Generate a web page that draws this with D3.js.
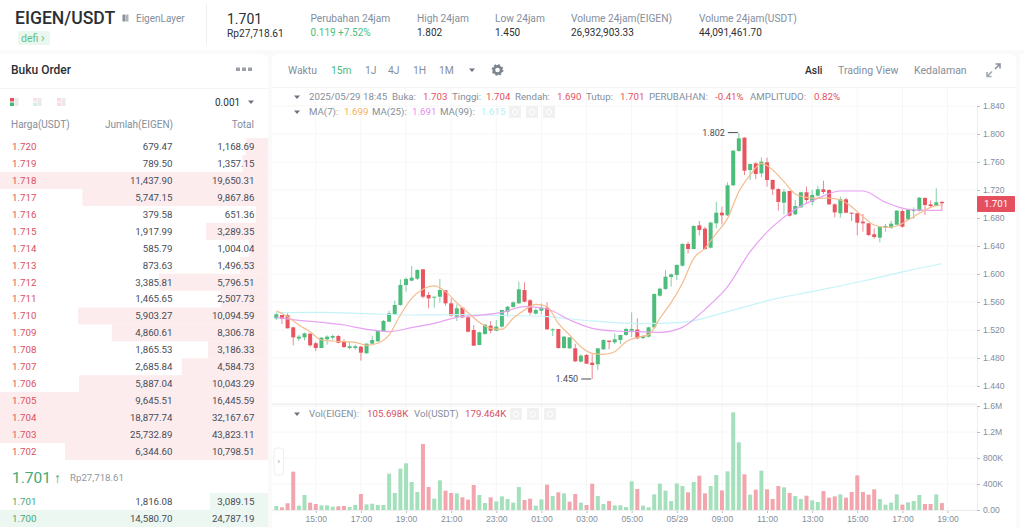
<!DOCTYPE html>
<html>
<head>
<meta charset="utf-8">
<script src="https://cdn.jsdelivr.net/npm/d3@7"></script>
<style>
  html, body { margin: 0; padding: 0; background: #fafafa; overflow: hidden; }
  svg { display: block; font-family: Roboto, "Noto Sans", sans-serif; }
</style>
</head>
<body>
<svg id="page" width="1024" height="528"></svg>
<script>
// candles, 15 minutes each, 05/28 13:15 to 05/29 18:45
const opens = [
  1.5367,1.5414,1.541,1.5238,1.5076,1.5095,1.5148,1.501,1.4943,1.5067,
  1.509,1.5114,1.5038,1.4943,1.4943,1.4962,1.4867,1.5005,1.5038,1.5181,
  1.5319,1.5424,1.5557,1.5843,1.5905,1.5933,1.6067,1.57,1.5662,1.5676,
  1.5767,1.5581,1.539,1.5519,1.5381,1.52,1.4986,1.5143,1.5262,1.519,
  1.5248,1.5462,1.5529,1.5581,1.5771,1.5624,1.5433,1.5476,1.5519,1.5195,
  1.5214,1.4943,1.4938,1.4938,1.4748,1.4843,1.4733,1.471,1.4924,1.5048,
  1.5024,1.5057,1.5129,1.519,1.5205,1.5086,1.5105,1.5238,1.569,1.5786,
  1.5957,1.5986,1.6119,1.6429,1.6357,1.6695,1.6648,1.6376,1.6724,1.6876,
  1.6838,1.7267,1.7757,1.7948,1.7486,1.7581,1.7438,1.7595,1.7343,1.7214,
  1.7019,1.7186,1.6852,1.6952,1.7167,1.7029,1.7119,1.721,1.72,1.6995,
  1.6867,1.7067,1.6876,1.6867,1.6748,1.6724,1.6567,1.6519,1.6662,1.6662,
  1.6705,1.69,1.6781,1.69,1.69,1.7086,1.6995,1.6976,1.703];
const closes = [
  1.5424,1.5357,1.5224,1.5095,1.5105,1.5152,1.4981,1.4943,1.509,1.5105,
  1.5114,1.5019,1.4957,1.4967,1.4967,1.4876,1.5005,1.5057,1.5186,1.5329,
  1.5438,1.5557,1.5843,1.5929,1.5948,1.6057,1.5676,1.5652,1.5676,1.5771,
  1.5581,1.5405,1.551,1.5381,1.5176,1.4976,1.5167,1.5276,1.519,1.5248,
  1.5486,1.5533,1.5595,1.5781,1.5605,1.5448,1.5486,1.5519,1.521,1.521,
  1.4943,1.5105,1.5095,1.4752,1.4833,1.4719,1.47,1.4938,1.5057,1.5029,
  1.5067,1.5129,1.5214,1.5214,1.5081,1.5114,1.5238,1.5714,1.579,1.5962,
  1.5995,1.6129,1.6429,1.6357,1.6686,1.6629,1.6357,1.6733,1.6876,1.6838,
  1.7267,1.7762,1.7938,1.7476,1.7571,1.7429,1.7605,1.7343,1.721,1.7029,
  1.7176,1.6833,1.6971,1.7167,1.7057,1.7129,1.721,1.7171,1.6995,1.6881,
  1.7067,1.6876,1.6862,1.6733,1.6724,1.6557,1.6529,1.6676,1.6686,1.6719,
  1.6905,1.6676,1.6919,1.6914,1.709,1.6986,1.6971,1.7024,1.701];
const highs = [
  1.5448,1.5414,1.5438,1.5248,1.5133,1.5162,1.5152,1.5029,1.51,1.5124,
  1.5133,1.5129,1.5067,1.5033,1.499,1.4971,1.501,1.5114,1.5195,1.5343,
  1.5476,1.5619,1.5924,1.5952,1.6114,1.6071,1.6067,1.5743,1.5676,1.5929,
  1.5767,1.5652,1.5567,1.5519,1.5414,1.5271,1.5176,1.5286,1.5329,1.5343,
  1.5486,1.5543,1.561,1.589,1.5881,1.5643,1.551,1.5581,1.5595,1.5224,
  1.5214,1.5114,1.51,1.5,1.4852,1.4857,1.4852,1.4943,1.5067,1.5048,
  1.5152,1.5129,1.5233,1.5452,1.5367,1.5129,1.5248,1.5724,1.5805,1.6057,
  1.6005,1.6138,1.6438,1.6462,1.6695,1.6757,1.6676,1.6748,1.7033,1.6962,
  1.731,1.7771,1.802,1.7952,1.7581,1.7595,1.7667,1.7662,1.7352,1.7224,
  1.7214,1.7186,1.7057,1.7176,1.7248,1.72,1.7262,1.7333,1.721,1.701,
  1.7105,1.709,1.6876,1.6876,1.6857,1.6724,1.6652,1.6681,1.6714,1.6762,
  1.6914,1.6924,1.6924,1.6952,1.71,1.7095,1.7052,1.7224,1.704];
const lows = [
  1.5343,1.5286,1.5224,1.4981,1.5043,1.5052,1.4962,1.49,1.4943,1.499,
  1.5057,1.501,1.4943,1.4924,1.4919,1.4762,1.4862,1.5,1.5033,1.5176,
  1.5314,1.5419,1.5548,1.5748,1.5895,1.5914,1.5652,1.551,1.5519,1.559,
  1.5548,1.539,1.5329,1.5371,1.5167,1.4971,1.4981,1.5133,1.5152,1.5181,
  1.5238,1.539,1.5519,1.5571,1.5595,1.5414,1.5424,1.5424,1.52,1.5114,
  1.4933,1.4933,1.4929,1.4743,1.4738,1.4714,1.45,1.4629,1.4914,1.4924,
  1.5,1.5,1.5119,1.5095,1.5067,1.5071,1.5095,1.5229,1.5676,1.5771,
  1.5819,1.5914,1.6105,1.6295,1.6352,1.6552,1.6343,1.6367,1.6652,1.671,
  1.6829,1.7257,1.7748,1.7414,1.7343,1.7357,1.7381,1.7248,1.7129,1.6905,
  1.6852,1.6819,1.6843,1.6948,1.7,1.6976,1.7105,1.7143,1.6986,1.681,
  1.6805,1.6867,1.6757,1.6552,1.6605,1.6543,1.6505,1.6452,1.6605,1.6643,
  1.67,1.6662,1.6771,1.6786,1.689,1.6843,1.6952,1.6971,1.69];

// volume per candle, in thousands of EIGEN
const volumes = [
  62,41,103,590,67,231,113,92,72,72,
  51,56,62,46,77,246,87,97,77,77,
  559,262,636,718,431,277,1015,354,174,456,
  297,262,256,195,159,385,231,108,195,133,
  210,169,113,354,154,174,67,164,390,215,
  272,256,128,246,113,77,405,215,92,138,
  72,72,46,441,323,67,41,241,405,297,
  138,410,369,272,431,528,256,369,538,302,
  595,1502,1041,549,236,313,605,318,169,369,
  349,262,215,169,220,149,123,292,190,210,
  241,190,277,533,277,236,318,169,82,113,
  241,82,118,138,231,92,92,241,106];
const redVolumes = [1,2,3,6,7,11,12,15,26,27,30,31,33,34,35,38,44,45,48,50,52,53,55,56,59,64,
  73,75,76,79,83,85,87,88,89,91,94,97,98,99,101,102,103,104,105,106,111,115,116,118];

// moving averages, one value every 2, 4 and 8 candles
const ma7 = [
  1.5476,1.539,1.5271,1.5176,1.5057,1.5043,1.5033,1.5024,1.4981,1.501,
  1.5129,1.5414,1.5652,1.5781,1.5829,1.5748,1.559,1.5448,1.531,1.5224,
  1.521,1.5367,1.5486,1.5567,1.5533,1.5295,1.5129,1.4962,1.4867,1.4852,
  1.489,1.5033,1.5095,1.513,1.5367,1.559,1.5867,1.6224,1.6367,1.6581,
  1.6795,1.7176,1.7414,1.7581,1.7486,1.7319,1.7143,1.7095,1.7081,1.7085,
  1.7057,1.6962,1.6819,1.67,1.6666,1.6686,1.6771,1.6867,1.6952,1.6986];
const ma25 = [
  1.5381,1.5338,1.531,1.5271,1.521,1.5176,1.5233,1.5295,1.5381,1.541,
  1.5452,1.5533,1.55,1.5343,1.5224,1.5186,1.5176,1.5167,1.5238,1.5495,
  1.5819,1.6319,1.6676,1.6924,1.7081,1.7186,1.7186,1.7024,1.6924,1.691,1.691];
const ma99 = [
  1.5448,1.5452,1.5433,1.5414,1.5419,1.541,1.539,1.5329,1.529,1.531,
  1.5462,1.5638,1.5765,1.59,1.6048,1.6147];

const priceTicks = [1.84,1.8,1.76,1.72,1.68,1.64,1.6,1.56,1.52,1.48,1.44];
const volumeTicks = [0,400,800,1200,1600];
const volumeTickLabels = ["0.00","400K","800K","1.2M","1.6M"];
const timeTickLabels = ["15:00","17:00","19:00","21:00","23:00","01:00","03:00","05:00","05/29","09:00","11:00","13:00","15:00","17:00","19:00"];

// order book
const askPrices = [1.720,1.719,1.718,1.717,1.716,1.715,1.714,1.713,1.712,1.711,1.710,1.709,1.708,1.707,1.706,1.705,1.704,1.703,1.702];
const askAmounts = [679.47,789.50,11437.90,5747.15,379.58,1917.99,585.79,873.63,3385.81,1465.65,5903.27,4860.61,1865.53,2685.84,5887.04,9645.51,18877.74,25732.89,6344.60];
const askTotals = [1168.69,1357.15,19650.31,9867.86,651.36,3289.35,1004.04,1496.53,5796.51,2507.73,10094.59,8306.78,3186.33,4584.73,10043.29,16445.59,32167.67,43823.11,10798.51];
const bidPrices = [1.701,1.700];
const bidAmounts = [1816.08,14580.70];
const bidTotals = [3089.15,24787.19];

const tfLabels = ["1J","4J","1H","1M"];

const GREEN = "#4dbd7c", RED = "#e8545f", GRAY = "#848e9c", DARK = "#2b2f36";
const GRID = "#f6f6f6";

let svg = d3.select("#page");

function label(parent, x, y, str, size, fill, anchor, weight) {
    return parent.append("text")
        .attr("x", x).attr("y", y)
        .attr("dy", "0.35em")
        .attr("font-size", size)
        .attr("fill", fill)
        .attr("text-anchor", anchor || "start")
        .attr("font-weight", weight || 400)
        .text(str);
}

function box(parent, x, y, w, h, fill, r) {
    return parent.append("rect")
        .attr("x", x).attr("y", y)
        .attr("width", w).attr("height", h)
        .attr("rx", r || 0)
        .attr("fill", fill);
}

function caret(parent, x, y) {
    parent.append("path")
        .attr("d", d3.line()([[x - 3, y - 1.5], [x + 3, y - 1.5], [x, y + 2]]))
        .attr("fill", "#6b7280");
}

/* ---------- page frame ---------- */
box(svg, 0, 0, 1024, 50, "#fff");
box(svg, -6, 54, 274, 480, "#fff", 6);
box(svg, 272, 54, 744, 480, "#fff", 6);
box(svg, 1020, 54, 10, 480, "#fff", 4);

/* ---------- header ---------- */
label(svg, 15, 18, "EIGEN/USDT", 17.6, DARK, "start", 500);
box(svg, 122.5, 14.5, 3, 7, "#8b9099", 0.5);
box(svg, 126, 14.5, 2.5, 7, "#b0b4ba", 0.5);
label(svg, 136, 18, "EigenLayer", 10, GRAY);
box(svg, 18, 31, 32, 14, "#e9f7ee", 2);
label(svg, 21, 38, "defi", 10.5, "#5cc08a");
label(svg, 41, 38, "›", 12, "#5cc08a");
svg.append("line").attr("x1", 206.5).attr("x2", 206.5).attr("y1", 4).attr("y2", 45).attr("stroke", "#f0f0f0");
label(svg, 227, 19, "1.701", 14, DARK);
label(svg, 227, 33, "Rp27,718.61", 10.2, DARK);
label(svg, 310.5, 18, "Perubahan 24jam", 10.2, GRAY);
label(svg, 310.5, 32.5, "0.119 +7.52%", 10, GREEN);
label(svg, 417, 18, "High 24jam", 10.2, GRAY);
label(svg, 417, 32.5, "1.802", 10, DARK);
label(svg, 495, 18, "Low 24jam", 10.2, GRAY);
label(svg, 495, 32.5, "1.450", 10, DARK);
label(svg, 571, 18, "Volume 24jam(EIGEN)", 10.2, GRAY);
label(svg, 571, 32.5, "26,932,903.33", 10, DARK);
label(svg, 699, 18, "Volume 24jam(USDT)", 10.2, GRAY);
label(svg, 699, 32.5, "44,091,461.70", 10, DARK);

/* ---------- order book ---------- */
let book = svg.append("g");
label(book, 11, 70, "Buku Order", 12, DARK, "start", 500);
[238, 244, 250].forEach(x => box(book, x - 2, 67.5, 4, 3.5, "#9aa0a8", 0.5));
book.append("line").attr("x1", 0).attr("x2", 268).attr("y1", 88.5).attr("y2", 88.5).attr("stroke", "#f3f3f3");

// the three little layout buttons
[[10, "#e5505f", "#45b877", 1], [33, "#fbdde0", "#cdeedb", 0.9], [57, "#f9ccd1", "#f9ccd1", 0.7]].forEach(d => {
    box(book, d[0], 98, 4, 3.5, d[1]).attr("opacity", d[3]);
    box(book, d[0], 102.5, 4, 3.5, d[2]).attr("opacity", d[3]);
    box(book, d[0] + 4.5, 98, 4, 8, "#dfe1e4").attr("opacity", 0.7);
});
label(book, 215, 102.5, "0.001", 10, DARK);
caret(book, 251, 102);
label(book, 11, 124, "Harga(USDT)", 10, GRAY);
label(book, 173, 124, "Jumlah(EIGEN)", 10, GRAY, "end");
label(book, 254, 124, "Total", 10, GRAY, "end");

let depth = d3.scaleLinear().domain([0, 14250]).range([0, 268]).clamp(true);
let askRow = d3.scaleLinear().domain([0, 18]).range([146.7, 451.4]);
let bidRow = d3.scaleLinear().domain([0, 1]).range([501.6, 518.4]);
let fmtAmount = d3.format(",.2f");
let fmtPrice = d3.format(".3f");

function drawRows(prices, amounts, totals, rowY, barColor, textColor) {
    let rows = book.selectAll(null)
        .data(prices)
        .enter()
        .append("g")
        .attr("transform", (d, i) => `translate(0,${rowY(i)})`);

    rows.append("rect")
        .attr("x", (d, i) => 268 - depth(totals[i]))
        .attr("y", -8.5)
        .attr("width", (d, i) => depth(totals[i]))
        .attr("height", 17)
        .attr("fill", barColor);

    rows.append("text")
        .attr("x", 12).attr("dy", "0.35em")
        .attr("font-size", 9.7).attr("fill", textColor)
        .text(d => fmtPrice(d));

    rows.append("text")
        .attr("x", 172.5).attr("dy", "0.35em")
        .attr("font-size", 9.7).attr("fill", "#474d57").attr("text-anchor", "end")
        .text((d, i) => fmtAmount(amounts[i]));

    rows.append("text")
        .attr("x", 254.5).attr("dy", "0.35em")
        .attr("font-size", 9.7).attr("fill", "#474d57").attr("text-anchor", "end")
        .text((d, i) => fmtAmount(totals[i]));
}
drawRows(askPrices, askAmounts, askTotals, askRow, "#fcecee", "#d9505f");
drawRows(bidPrices, bidAmounts, bidTotals, bidRow, "#ecf7f1", "#45a873");

label(book, 12, 478, "1.701", 15.5, "#45a873");
label(book, 54, 478, "↑", 14, "#45a873");
label(book, 70, 478, "Rp27,718.61", 9.7, "#8f98a3");

/* ---------- toolbar ---------- */
let tools = svg.append("g");
tools.append("line").attr("x1", 272).attr("x2", 1016).attr("y1", 87.5).attr("y2", 87.5).attr("stroke", "#f3f3f3");
label(tools, 288, 70, "Waktu", 10.3, GRAY);
label(tools, 331, 70, "15m", 10.3, GREEN);
[365, 388, 413, 439].forEach((x, i) => label(tools, x, 70, tfLabels[i], 10.3, GRAY));
caret(tools, 472, 70);
tools.append("circle").attr("cx", 497.5).attr("cy", 70).attr("r", 3.6)
    .attr("fill", "none").attr("stroke", "#7d8590").attr("stroke-width", 2.6);
tools.append("circle").attr("cx", 497.5).attr("cy", 70).attr("r", 5.1)
    .attr("fill", "none").attr("stroke", "#7d8590").attr("stroke-width", 1.6).attr("stroke-dasharray", "2 2");
label(tools, 805, 70, "Asli", 10.3, DARK, "start", 500);
label(tools, 838, 70, "Trading View", 10.5, GRAY);
label(tools, 914, 70, "Kedalaman", 10.5, GRAY);
tools.append("path").attr("d", "M987 76.5 L992 71.5 M987 72 V76.5 H991.5").attr("fill", "none").attr("stroke", "#a3a9b2").attr("stroke-width", 1.6);
tools.append("path").attr("d", "M1000 64 L995 69 M1000 68.5 V64 H995.5").attr("fill", "none").attr("stroke", "#8b929c").attr("stroke-width", 1.6);

/* ---------- scales ---------- */
let xScale = d3.scaleLinear().domain([0, 118]).range([276.3, 941.9]);
let yScale = d3.scaleLinear().domain([1.44, 1.84]).range([386, 106]);
let volScale = d3.scaleLinear().domain([0, 1600]).range([510, 406]);
let timeTicks = timeTickLabels.map((d, i) => 7 + i * 8);

/* ---------- grid ---------- */
let grid = svg.append("g").attr("stroke", GRID);
grid.selectAll(null).data(timeTicks).enter().append("line")
    .attr("x1", d => xScale(d)).attr("x2", d => xScale(d))
    .attr("y1", 88).attr("y2", 510);
grid.selectAll(null).data(priceTicks).enter().append("line")
    .attr("x1", 272).attr("x2", 977)
    .attr("y1", d => yScale(d)).attr("y2", d => yScale(d));
grid.selectAll(null).data(volumeTicks).enter().append("line")
    .attr("x1", 272).attr("x2", 977)
    .attr("y1", d => volScale(d)).attr("y2", d => volScale(d));
box(svg, 272, 403.5, 705, 1.5, "#efefef");

/* ---------- candles ---------- */
let candles = svg.append("g");
candles.selectAll("line").data(closes).enter().append("line")
    .attr("x1", (d, i) => xScale(i)).attr("x2", (d, i) => xScale(i))
    .attr("y1", (d, i) => yScale(highs[i])).attr("y2", (d, i) => yScale(lows[i]))
    .attr("stroke", (d, i) => d >= opens[i] ? GREEN : RED)
    .attr("stroke-opacity", 0.7);
candles.selectAll("rect").data(closes).enter().append("rect")
    .attr("x", (d, i) => xScale(i) - 2)
    .attr("width", 4)
    .attr("y", (d, i) => yScale(Math.max(d, opens[i])))
    .attr("height", (d, i) => Math.max(1, Math.abs(yScale(d) - yScale(opens[i]))))
    .attr("fill", (d, i) => d >= opens[i] ? GREEN : RED);

/* ---------- moving averages ---------- */
function drawMA(values, index, color) {
    let line = d3.line()
        .x((d, i) => xScale(index[i]))
        .y(d => yScale(d))
        .curve(d3.curveMonotoneX);
    svg.append("path")
        .datum(values)
        .attr("d", line)
        .attr("fill", "none")
        .attr("stroke", color)
        .attr("stroke-width", 1.2);
}
drawMA(ma99, d3.range(0, 113, 8).concat([118]), "#c4f3f8");
drawMA(ma25, d3.range(0, 117, 4).concat([118]), "#e8a2f4");
drawMA(ma7, d3.range(0, 119, 2), "#f5bc8e");

/* ---------- high and low marks ---------- */
function extremeMark(i, price) {
    let px = xScale(i), py = yScale(price), g = svg.append("g");
    g.append("line").attr("x1", px - 11).attr("x2", px - 1).attr("y1", py).attr("y2", py).attr("stroke", "#474d57");
    label(g, px - 14, py, fmtPrice(price), 9, "#474d57", "end");
}
extremeMark(82, 1.802);
extremeMark(56, 1.45);

/* ---------- volume ---------- */
svg.append("g").selectAll("rect").data(volumes).enter().append("rect")
    .attr("x", (d, i) => xScale(i) - 2)
    .attr("width", 4)
    .attr("y", d => volScale(d))
    .attr("height", d => 510 - volScale(d))
    .attr("fill", (d, i) => redVolumes.includes(i) ? "#f3a5ae" : "#a5e0bc");

/* ---------- axes ---------- */
let priceAxis = d3.axisRight(yScale)
    .tickValues(priceTicks)
    .tickFormat(d3.format(".3f"))
    .tickSize(3).tickPadding(3);
let volAxis = d3.axisRight(volScale)
    .tickValues(volumeTicks)
    .tickFormat((d, i) => volumeTickLabels[i])
    .tickSize(3).tickPadding(3);
let timeAxis = d3.axisBottom(xScale)
    .tickValues(timeTicks)
    .tickFormat((d, i) => timeTickLabels[i])
    .tickSize(3).tickPadding(3);

function styleAxis(g) {
    g.selectAll("text").attr("font-size", 8.6).attr("fill", GRAY).attr("font-family", "'Liberation Sans', Arial, sans-serif");
    g.selectAll("line").attr("stroke", "#b7bdc6");
    g.select(".domain").attr("stroke", "#eeeeee");
}
svg.append("g").attr("transform", "translate(977,0)").call(priceAxis).call(styleAxis);
svg.append("g").attr("transform", "translate(977,0)").call(volAxis).call(styleAxis);
svg.append("g").attr("transform", "translate(0,510)").call(timeAxis).call(styleAxis);
svg.append("line").attr("x1", 272).attr("x2", 977).attr("y1", 510.5).attr("y2", 510.5).attr("stroke", "#eeeeee");

// current price tag
box(svg, 977, 196, 38, 16, "#e5505f", 1);
label(svg, 996, 204, "1.701", 9.6, "#fff", "middle");

/* ---------- legends over the chart ---------- */
function legendRow(y, items) {
    let g = svg.append("g");
    caret(g, 297, y);
    items.forEach(d => label(g, d[0], y, d[1], 9.7, d[2]));
    return g;
}
function legendIcons(g, xs, y) {
    xs.forEach(x => {
        box(g, x - 6, y - 6, 12, 12, "#f1f1f1", 1);
        g.append("circle").attr("cx", x).attr("cy", y).attr("r", 2.6)
            .attr("fill", "none").attr("stroke", "#fff").attr("stroke-width", 1);
    });
}
legendRow(97, [
    [309, "2025/05/29 18:45", GRAY], [392, "Buka:", GRAY], [423, "1.703", "#e5505f"],
    [452, "Tinggi:", GRAY], [486, "1.704", "#e5505f"], [515, "Rendah:", GRAY], [557, "1.690", "#e5505f"],
    [586, "Tutup:", GRAY], [620, "1.701", "#e5505f"], [649, "PERUBAHAN:", GRAY], [715, "-0.41%", "#e5505f"],
    [750, "AMPLITUDO:", GRAY], [814, "0.82%", "#e5505f"]
]);
legendIcons(legendRow(112, [
    [309, "MA(7):", GRAY], [344, "1.699", "#f5b060"], [372, "MA(25):", GRAY], [412, "1.691", "#e58df2"],
    [440, "MA(99):", GRAY], [481, "1.615", "#b4eef5"]
]), [515, 532, 549], 112);
legendIcons(legendRow(414, [
    [309, "Vol(EIGEN):", GRAY], [367, "105.698K", "#d9505f"], [414, "Vol(USDT)", GRAY], [465, "179.464K", "#d9505f"]
]), [516, 533, 550], 414);

// collapse handle at the left of the volume pane
svg.append("rect").attr("x", 274).attr("y", 448).attr("width", 9.5).attr("height", 27).attr("rx", 3)
    .attr("fill", "#fff").attr("stroke", "#efefef");
label(svg, 278.7, 461, "›", 8, GRAY, "middle");
</script>
</body>
</html>
